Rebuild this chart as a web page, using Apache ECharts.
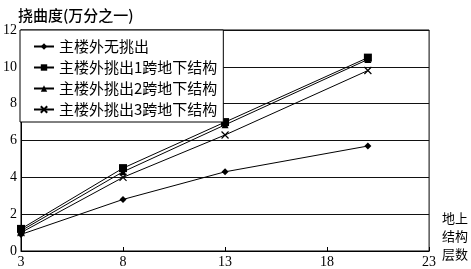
<!DOCTYPE html>
<html><head><meta charset="utf-8">
<script src="https://cdn.jsdelivr.net/npm/echarts@6/dist/echarts.min.js"></script>
<style>html,body{margin:0;padding:0;background:#fff}#c{width:471px;height:269px}</style>
</head><body><div id="c"></div>
<script>
const xValues = [3, 8, 13, 20];
const seriesNames = ['主楼外无挑出', '主楼外挑出1跨地下结构', '主楼外挑出2跨地下结构', '主楼外挑出3跨地下结构'];
const s0 = [0.9, 2.8, 4.3, 5.7];
const s1 = [1.2, 4.5, 7.0, 10.5];
const s2 = [1.1, 4.3, 6.85, 10.4];
const s3 = [1.0, 4.0, 6.3, 9.8];
const xTicks = [3, 8, 13, 18, 23];
const yTicks = [0, 2, 4, 6, 8, 10, 12];
const titleText = '挠曲度(万分之一)';
const xName = '地上\n结构\n层数';

const cjk = '"Noto Sans CJK SC", sans-serif';
const serif = '"Liberation Serif", "DejaVu Serif", serif';
const symbols = ['diamond', 'rect', 'triangle', 'path://M0,0L10,10M10,0L0,10'];
const sizes = [7, [8, 8], 7, 7];
const all = [s0, s1, s2, s3];

const chart = echarts.init(document.getElementById('c'), null, {renderer: 'canvas'});
chart.setOption({
  animation: false,
  backgroundColor: '#fff',
  title: {text: titleText, left: 13, top: 3, textStyle: {fontFamily: cjk, fontSize: 15, fontWeight: 500, color: '#000'}},
  grid: {left: 20, right: 39, top: 30, bottom: 18, show: true, borderColor: '#000', borderWidth: 1, backgroundColor: 'transparent'},
  legend: {
    orient: 'vertical', left: 20, top: 30,
    backgroundColor: '#fff', borderColor: '#000', borderWidth: 1,
    padding: [9, 6, 5, 13], itemGap: 6, itemWidth: 20, itemHeight: 8,
    textStyle: {fontFamily: cjk, fontSize: 15, color: '#000'},
    data: seriesNames
  },
  xAxis: {
    type: 'value', min: 3, max: 23,
    name: xName, nameLocation: 'end', nameGap: 2,
    nameTextStyle: {fontFamily: cjk, fontSize: 13, color: '#000', align: 'left', verticalAlign: 'bottom', lineHeight: 18, padding: [0, 0, -12, 0]},
    axisLine: {lineStyle: {color: '#000', width: 1}},
    axisTick: {inside: true, length: 4, lineStyle: {color: '#000'}, customValues: xTicks},
    axisLabel: {fontFamily: serif, fontSize: 14, color: '#000', margin: 4, customValues: xTicks},
    splitLine: {show: false}
  },
  yAxis: {
    type: 'value', min: 0, max: 12, interval: 2,
    axisLine: {show: true, lineStyle: {color: '#000', width: 1}},
    axisTick: {show: false},
    axisLabel: {fontFamily: serif, fontSize: 14, color: '#000', margin: 4},
    splitLine: {lineStyle: {color: '#111', width: 1}}
  },
  series: all.map((d, i) => ({
    name: seriesNames[i], type: 'line',
    data: xValues.map((x, j) => [x, d[j]]),
    symbol: symbols[i], symbolSize: sizes[i], showSymbol: true,
    lineStyle: {color: '#000', width: 1},
    itemStyle: {color: '#000', borderColor: '#000', borderWidth: i === 3 ? 1.2 : 0},
    z: 3
  }))
});
</script></body></html>
